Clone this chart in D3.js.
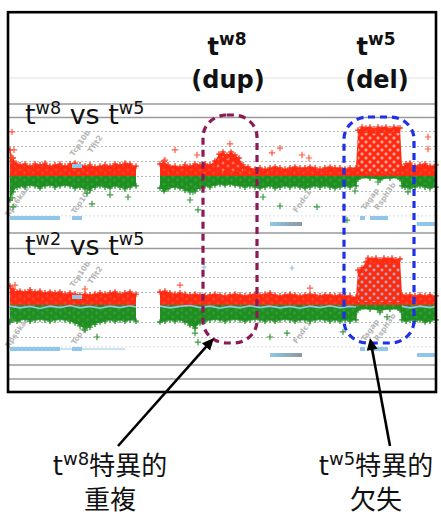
<!DOCTYPE html>
<html><head><meta charset="utf-8">
<script src="https://cdn.jsdelivr.net/npm/d3@7"></script>
<style>
html,body{margin:0;padding:0;background:#fff;}
svg{display:block;}
</style></head><body>
<svg id="chart" width="441" height="517"></svg>
<script>
// ================= DATA =================
// genomic position (Mb from window start), log2 ratio
const t1RedTop = [[0,.87],[.3,.6],[.6,.43],[1,.37],[1.5,.4],[2,.33],[2.5,.4],[3,.37],[3.5,.43],[4,.33],[4.5,.37],[5,.4],[5.5,.33],[6,.4],[6.5,.43],[7,.37],[7.5,.33],[8,.37],[8.5,.3],[9,.33],[9.5,.37],[10,.33],[10.5,.4],[11,.37],[11.5,.43],[12,.4],[12.6,.33],[13.8,null],[15,.4],[15.4,.5],[15.8,.37],[16.5,.33],[17,.3],[17.5,.37],[18,.33],[18.5,.4],[19,.37],[19.5,.4],[20,.37],[20.5,.5],[20.9,.73],[21.3,.8],[21.7,.7],[22.1,.8],[22.5,.7],[22.9,.6],[23.3,.37],[23.8,.3],[24.5,.23],[25,.27],[25.5,.23],[26,.27],[26.5,.3],[27,.27],[27.5,.23],[28,.27],[28.5,.3],[29,.27],[29.5,.27],[30,.3],[30.5,.27],[31,.23],[31.5,.27],[32,.3],[32.5,.27],[33,.27],[33.5,.23],[34,.27],[34.6,.27],[34.8,1.53],[35.2,1.63],[35.6,1.6],[36,1.63],[36.4,1.57],[36.8,1.63],[37.2,1.6],[37.6,1.63],[38,1.57],[38.4,1.63],[38.8,1.6],[39,1.6],[39.2,.3],[39.6,.4],[40,.43],[40.5,.33],[41,.37],[41.5,.4],[42,.33],[42.6,.37]];
const t1GreenBot = [[0,-.8],[.3,-.53],[.7,-.37],[1,-.33],[1.5,-.37],[2,-.3],[2.5,-.33],[3,-.4],[3.5,-.33],[4,-.3],[4.5,-.37],[5,-.33],[5.5,-.3],[6,-.33],[6.5,-.4],[7,-.37],[7.5,-.43],[8,-.47],[8.5,-.37],[9,-.33],[9.5,-.37],[10,-.4],[10.5,-.33],[11,-.37],[11.5,-.43],[12,-.37],[12.6,-.33],[13.8,null],[15,-.4],[15.4,-.5],[15.8,-.43],[16.5,-.37],[17,-.4],[17.5,-.47],[18,-.53],[18.5,-.5],[19,-.4],[19.5,-.33],[20,-.37],[20.5,-.3],[21,-.27],[21.5,-.3],[22,-.27],[22.5,-.3],[23,-.33],[23.5,-.37],[24,-.33],[24.5,-.37],[25,-.4],[25.5,-.37],[26,-.33],[26.5,-.4],[27,-.37],[27.5,-.33],[28,-.37],[28.5,-.33],[29,-.37],[29.5,-.4],[30,-.37],[30.5,-.33],[31,-.37],[31.5,-.33],[32,-.37],[32.5,-.4],[33,-.37],[33.5,-.33],[34,-.37],[34.6,-.33],[34.8,-.1],[36,-.07],[37,-.13],[38,-.07],[39,-.1],[39.2,-.33],[39.5,-.37],[40,-.4],[40.5,-.37],[41,-.33],[41.5,-.37],[42,-.4],[42.6,-.37]];
const t2RedTop = [[0,.7],[.3,.6],[.7,.5],[1,.53],[1.5,.5],[2,.57],[2.5,.5],[3,.53],[3.5,.47],[4,.5],[4.5,.47],[5,.5],[5.5,.43],[6,.47],[6.5,.43],[7,.4],[7.5,.43],[8,.4],[8.5,.43],[9,.47],[9.5,.43],[10,.47],[10.5,.5],[11,.43],[11.5,.47],[12,.5],[12.6,.43],[13.8,null],[15,.5],[15.5,.53],[16,.47],[16.5,.43],[17,.47],[17.5,.43],[18,.4],[18.5,.43],[19,.4],[19.5,.37],[20,.4],[20.5,.43],[21,.4],[21.5,.37],[22,.4],[22.5,.43],[23,.4],[23.5,.37],[24,.4],[24.5,.43],[25,.4],[25.5,.43],[26,.47],[26.5,.4],[27,.37],[27.5,.4],[28,.43],[28.5,.4],[29,.37],[29.5,.4],[30,.43],[30.5,.4],[31,.37],[31.5,.4],[32,.4],[32.5,.37],[33,.4],[33.5,.37],[34,.37],[34.6,.33],[34.8,1.23],[35.2,1.3],[35.6,1.5],[35.8,1.63],[36.2,1.6],[36.6,1.63],[37,1.57],[37.4,1.63],[37.8,1.6],[38.2,1.63],[38.6,1.57],[39,1.6],[39.2,.4],[39.6,.37],[40,.4],[40.5,.37],[41,.4],[41.5,.37],[42,.4],[42.6,.37]];
const t2GreenBot = [[0,-.5],[.3,-.43],[.7,-.47],[1,-.43],[1.5,-.4],[2,-.47],[2.5,-.43],[3,-.4],[3.5,-.43],[4,-.47],[4.5,-.43],[5,-.4],[5.5,-.43],[6,-.47],[6.5,-.53],[7,-.63],[7.5,-.73],[8,-.67],[8.5,-.57],[9,-.5],[9.5,-.47],[10,-.43],[10.5,-.47],[11,-.43],[11.5,-.47],[12,-.43],[12.6,-.47],[13.8,null],[15,-.5],[15.5,-.47],[16,-.43],[16.5,-.47],[17,-.43],[17.5,-.5],[18,-.6],[18.5,-.7],[19,-.53],[19.5,-.47],[20,-.43],[20.5,-.4],[21,-.43],[21.5,-.47],[22,-.43],[22.5,-.4],[23,-.43],[23.5,-.47],[24,-.43],[24.5,-.4],[25,-.43],[25.5,-.47],[26,-.43],[26.5,-.47],[27,-.43],[27.5,-.4],[28,-.43],[28.5,-.47],[29,-.43],[29.5,-.43],[30,-.47],[30.5,-.43],[31,-.4],[31.5,-.43],[32,-.47],[32.5,-.43],[33,-.47],[33.5,-.43],[34,-.47],[34.6,-.43],[34.8,-.1],[36,-.07],[37,-.13],[38,-.07],[39,-.1],[39.2,-.43],[39.6,-.47],[40,-.43],[40.5,-.47],[41,-.43],[41.5,-.5],[42,-.47],[42.6,-.43]];
const trackBoundary = [0.0, 0.07];           // red/green meeting value per track
const t2BlueLine = [[0,.03],[1,-.03],[2,.02],[3,-.05],[4,.03],[5,-.02],[6,.05],[7,-.03],[8,.02],[9,-.04],[10,.03],[11,-.02],[12,.04],[12.6,0],[13.8,null],[15,.03],[16,-.03],[17,.02],[18,.05],[19,-.02],[20,.03],[21,-.04],[22,.02],[23,-.03],[24,.04],[25,-.02],[26,.03],[27,-.03],[28,.02],[29,-.04],[30,.03],[31,-.02],[32,.04],[33,-.03],[34,.02],[34.6,0],[34.7,null],[39.2,.02],[40,-.03],[41,.03],[42,-.02],[42.6,.02]];
const t1RedOut = [[.2,1.47],[.4,.87],[.2,.6],[15.5,.53],[16.5,.87],[18.7,.7],[22.0,1.07],[26.2,.77],[27.0,.93],[29.2,.7],[29.9,.6],[41.8,1.3],[41.8,.9]];
const t1GreenOut = [[.3,-1.03],[.2,-.73],[7.7,-.57],[8.2,-.93],[10,-.63],[11.8,-.7],[18.3,-.53],[18.8,-1.13],[18,-.8],[25.3,-.7],[27,-1.0],[30.7,-1.03],[34.5,-.5],[33.7,-1.47],[36.8,-.2],[39.8,-.53]];
const t2RedOut = [[.5,.73],[7.5,.6],[17,.73],[30,.63]];
const t2GreenOut = [[.2,-.43],[7.5,-.77],[8.7,-1.0],[18.5,-.87],[18.8,-1.17],[26,-1.0],[27.7,-.87],[33.3,-.83],[37,-.17],[37.7,-.33]];
const t2BlueOut = [[28.2,1.3],[19.4,1.33]];
const delRange = [34.8, 39.0];
const dupRange = [20.5, 23.3];
const geneStart = [0, 6.2, 26.0, 35.0, 36.0, 40.7, 6.2];
const geneEnd   = [5.0, 7.2, 29.2, 35.5, 37.8, 42.6, 7.2];
const geneRow   = ["a", "a", "b", "a", "a", "b", "hi"];
const t2Intron  = [[5.0, 11.5]];
const geneNames = ["Rps6ka2","Tcp10b","Tfit2","Tcp10c","Fndc1","Tagap","Rsph3b"];
const geneLabelPos = [0.7, 7.0, 8.5, 7.1, 29.2, 36.0, 37.5];
const gridValues = [1.5, 1.0, 0.5, 0, -0.5, -1.0];
const trackTitles = [["w8","w5"],["w2","w5"]];
const topLabels = [["w8","(dup)"],["w5","(del)"]];
const bottomLabels = [["w8","特異的","重複"],["w5","特異的","欠失"]];

// ================= LAYOUT =================
const svg = d3.select("#chart");
const RED = "#ff2a12", GREEN = "#1f8f22", LBLUE = "#8fc6ea";
const x = d3.scaleLinear().domain([0, 42.6]).range([10, 436]);
const trackZero = [176, 307];
const yScales = trackZero.map(z => d3.scaleLinear().domain([-1.5, 2]).range([z + 45, z - 60]));
const rowOff = {a: [40, 4], b: [46, 4], hi: [-12, 4]};
const labelDy = [25, -33, -32, 25, 25, 23, 20];

const defs = svg.append("defs");
function crossPattern(id, w, h, bg, fg, pts, arm, sw) {
  const p = defs.append("pattern").attr("id", id).attr("patternUnits", "userSpaceOnUse")
    .attr("width", w).attr("height", h);
  p.append("rect").attr("width", w).attr("height", h).attr("fill", bg);
  pts.forEach(([a, b]) => p.append("path")
    .attr("d", `M${a-arm},${b}h${2*arm}M${a},${b-arm}v${2*arm}`)
    .attr("stroke", fg).attr("stroke-width", sw).attr("fill", "none"));
}
crossPattern("redTex", 9, 7, RED, "#ff4a2c", [[2,2],[6.5,5]], 1.5, 1);
crossPattern("greenTex", 9, 7, GREEN, "#38a03a", [[2,2],[6.5,5]], 1.5, 1);
crossPattern("delPale", 8, 8, RED, "#ffd2cc", [[2,2],[6,6]], 1.6, 1);
crossPattern("dupPale", 10, 7, RED, "#ff9a88", [[3,2],[8,5]], 1.4, 0.9);
crossPattern("delBlue", 8, 8, RED, "#a9cdea", [[2,2],[6,6]], 1.6, 1.1);
const grad = defs.append("linearGradient").attr("id", "gbar");
grad.append("stop").attr("offset", "0%").attr("stop-color", "#8ec6ec");
grad.append("stop").attr("offset", "100%").attr("stop-color", "#8d979e");

svg.append("rect").attr("width", 441).attr("height", 517).attr("fill", "#fff");

// faint top line
svg.append("line").attr("x1", 9).attr("x2", 435).attr("y1", 78).attr("y2", 78)
  .attr("stroke", "#ececec").attr("stroke-width", 1.5);
// solid separators
[104, 117.5, 233, 248.5, 365, 379].forEach(yy => svg.append("line")
  .attr("x1", 9).attr("x2", 435).attr("y1", yy).attr("y2", yy)
  .attr("stroke", "#9a9a9a").attr("stroke-width", 1.6));

const cross = (cx, cy, a) => `M${cx-a},${cy}h${2*a}M${cx},${cy-a}v${2*a}`;

const tracksData = [
  {redTop: t1RedTop, greenBot: t1GreenBot, redOut: t1RedOut, greenOut: t1GreenOut, delPat: "delPale"},
  {redTop: t2RedTop, greenBot: t2GreenBot, redOut: t2RedOut, greenOut: t2GreenOut, delPat: "delBlue"}
];

tracksData.forEach((td, ti) => {
  const y = yScales[ti];
  const g = svg.append("g");
  // dashed grid
  gridValues.forEach(v => g.append("line").attr("x1", 9).attr("x2", 435)
    .attr("y1", Math.round(y(v)) + 0.5).attr("y2", Math.round(y(v)) + 0.5)
    .attr("stroke", "#b8b8b8").attr("stroke-width", 1).attr("stroke-dasharray", "2,2"));
  g.append("line").attr("x1", 9).attr("x2", 435)
    .attr("y1", y(-1.33)).attr("y2", y(-1.33))
    .attr("stroke", "#dddddd").attr("stroke-width", 1).attr("stroke-dasharray", "2,2");

  // gene name labels (behind the data)
  geneNames.forEach((nm, i) => {
    g.append("text").attr("transform", `translate(${x(geneLabelPos[i])},${trackZero[ti] + labelDy[i]}) rotate(-55)`)
      .attr("text-anchor", "middle").attr("dy", "0.35em")
      .attr("font-family", "DejaVu Sans").attr("font-weight", "bold").attr("font-size", 7.5)
      .attr("fill", "#b6b6b6").text(nm);
  });

  const base = trackBoundary[ti];
  const redArea = d3.area().defined(d => d[1] !== null)
    .x(d => x(d[0])).y0(y(base)).y1(d => y(d[1]));
  const greenArea = d3.area().defined(d => d[1] !== null)
    .x(d => x(d[0])).y0(y(base)).y1(d => y(d[1]));

  g.append("path").attr("d", greenArea(td.greenBot)).attr("fill", "url(#greenTex)");
  g.append("path").attr("d", redArea(td.redTop)).attr("fill", "url(#redTex)");
  // deletion / duplication texture overlays
  const inR = (r) => td.redTop.filter(d => d[1] !== null && d[0] >= r[0] && d[0] <= r[1]);
  const delPts = inR(delRange);
  g.append("path").attr("d", d3.area().x(d => x(d[0])).y0(y(base) - 3).y1(d => y(d[1]) + 5)(delPts))
    .attr("fill", "url(#" + td.delPat + ")");
  if (ti === 0) {
    g.append("path").attr("d", d3.area().x(d => x(d[0])).y0(y(base) - 4).y1(d => y(d[1]) + 4)(inR(dupRange)))
      .attr("fill", "url(#dupPale)");
  }
  // fuzzy edges
  g.append("path").attr("d", td.redTop.filter(d => d[1] !== null).map(d => cross(x(d[0]), y(d[1]), 2.8)).join(""))
    .attr("stroke", RED).attr("stroke-width", 1.3).attr("fill", "none");
  g.append("path").attr("d", td.greenBot.filter(d => d[1] !== null).map(d => cross(x(d[0]), y(d[1]), 2.8)).join(""))
    .attr("stroke", GREEN).attr("stroke-width", 1.3).attr("fill", "none");
  // outliers
  g.append("path").attr("d", td.redOut.map(d => cross(x(d[0]), y(d[1]), 3.2)).join(""))
    .attr("stroke", "#ff5a44").attr("stroke-width", 1.2).attr("fill", "none");
  g.append("path").attr("d", td.greenOut.map(d => cross(x(d[0]), y(d[1]), 3.2)).join(""))
    .attr("stroke", "#3a9a3c").attr("stroke-width", 1.2).attr("fill", "none");
  if (ti === 1) {
    g.append("path").attr("d", d3.line().defined(d => d[1] !== null).x(d => x(d[0])).y(d => y(d[1]))(t2BlueLine))
      .attr("stroke", LBLUE).attr("stroke-width", 1.6).attr("fill", "none");
    g.append("path").attr("d", t2BlueOut.map(d => cross(x(d[0]), y(d[1]), 2.5)).join(""))
      .attr("stroke", LBLUE).attr("stroke-width", 1.2).attr("fill", "none");
    t2Intron.forEach(r => g.append("line").attr("x1", x(r[0])).attr("x2", x(r[1]))
      .attr("y1", trackZero[ti] + rowOff.a[0] + 2).attr("y2", trackZero[ti] + rowOff.a[0] + 2)
      .attr("stroke", LBLUE).attr("stroke-width", 1.2));
  }
  // genes
  geneStart.forEach((s, i) => {
    const ro = rowOff[geneRow[i]];
    g.append("rect").attr("x", x(s)).attr("width", x(geneEnd[i]) - x(s))
      .attr("y", trackZero[ti] + ro[0]).attr("height", ro[1])
      .attr("fill", i === 2 ? "url(#gbar)" : LBLUE);
  });
  // track title
  const tt = svg.append("text").attr("x", 25).attr("y", trackZero[ti] - 52)
    .attr("font-family", "DejaVu Sans").attr("font-size", 27).attr("fill", "#111");
  tt.append("tspan").text("t");
  tt.append("tspan").attr("font-size", 17.5).attr("dy", -10).text(trackTitles[ti][0]);
  tt.append("tspan").attr("dy", 10).text(" vs t");
  tt.append("tspan").attr("font-size", 17.5).attr("dy", -10).text(trackTitles[ti][1]);
});

// top labels
const topCx = [x(21.7), x(36.6)];
topLabels.forEach((lab, i) => {
  const t = svg.append("text").attr("x", topCx[i]).attr("y", 55).attr("text-anchor", "middle")
    .attr("font-family", "DejaVu Sans").attr("font-weight", "bold").attr("font-size", 24).attr("fill", "#111");
  t.append("tspan").text("t");
  t.append("tspan").attr("font-size", 17).attr("dy", -10).text(lab[0]);
  svg.append("text").attr("x", topCx[i] + 1).attr("y", 88).attr("text-anchor", "middle")
    .attr("font-family", "DejaVu Sans").attr("font-weight", "bold").attr("font-size", 24)
    .attr("fill", "#111").text(lab[1]);
});

// dashed highlight boxes
const boxes = [{s: 19.3, e: 24.7, top: 115, col: "#8c1a56"}, {s: 33.4, e: 40.4, top: 117, col: "#2030e6"}];
boxes.forEach(b => svg.append("rect").attr("x", x(b.s)).attr("y", b.top)
  .attr("width", x(b.e) - x(b.s)).attr("height", 343 - b.top).attr("rx", 24).attr("ry", 22)
  .attr("fill", "none").attr("stroke", b.col).attr("stroke-width", 3.2).attr("stroke-dasharray", "7,5"));

// frame
svg.append("rect").attr("x", 8).attr("y", 12.2).attr("width", 428).attr("height", 379.8)
  .attr("fill", "none").attr("stroke", "#000").attr("stroke-width", 2.6);

// arrows
const arrows = [[118, 446, 214, 338], [390, 446, 370, 338]];
arrows.forEach(([x0, y0, x1, y1]) => {
  const dx = x1 - x0, dy = y1 - y0, L = Math.hypot(dx, dy), ux = dx / L, uy = dy / L;
  const hl = 12, hw = 5.5;
  const bx = x1 - ux * hl, by = y1 - uy * hl;
  svg.append("line").attr("x1", x0).attr("y1", y0).attr("x2", bx + ux * 2).attr("y2", by + uy * 2)
    .attr("stroke", "#000").attr("stroke-width", 2.6);
  svg.append("path").attr("d", `M${x1},${y1}L${bx - uy * hw},${by + ux * hw}L${bx + uy * hw},${by - ux * hw}Z`)
    .attr("fill", "#000");
});

// bottom labels
const botCx = [110, 376];
bottomLabels.forEach((lab, i) => {
  const t = svg.append("text").attr("x", botCx[i]).attr("y", 475).attr("text-anchor", "middle")
    .attr("font-family", "'DejaVu Sans','Noto Sans CJK JP'").attr("font-size", 26).attr("fill", "#111");
  t.append("tspan").text("t");
  t.append("tspan").attr("font-size", 18).attr("dy", -10).text(lab[0]);
  t.append("tspan").attr("dy", 10).attr("font-family", "'Noto Sans CJK JP'").text(lab[1]);
  svg.append("text").attr("x", botCx[i]).attr("y", 509).attr("text-anchor", "middle")
    .attr("font-family", "'Noto Sans CJK JP'").attr("font-size", 26).attr("fill", "#111").text(lab[2]);
});
</script>
</body></html>
